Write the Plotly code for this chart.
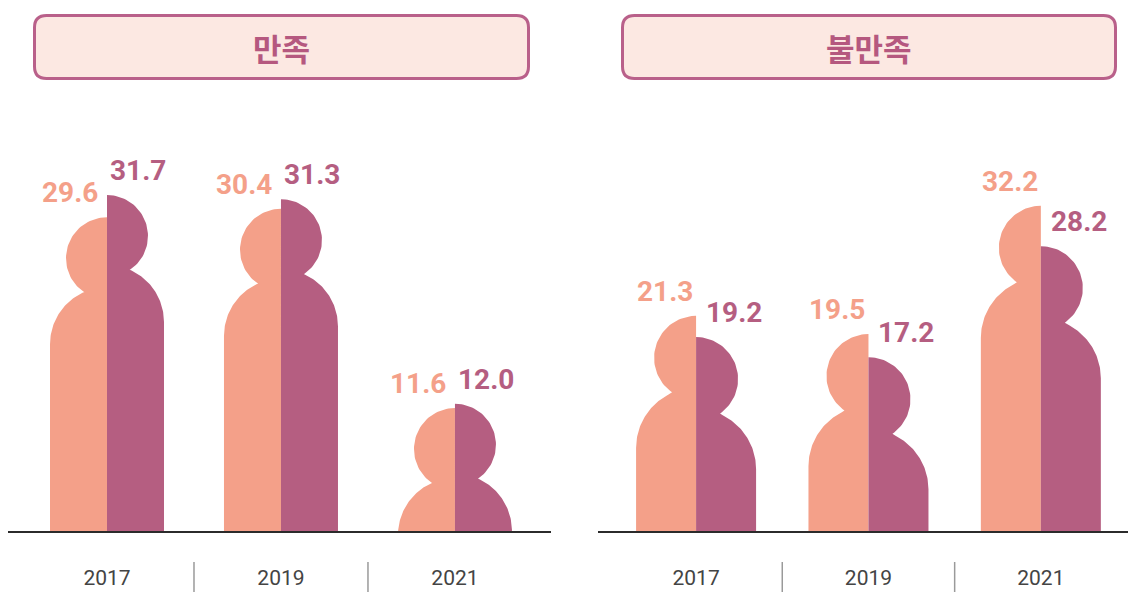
import math
import plotly.graph_objects as go

# ---------------- data ----------------
years = ["2017", "2019", "2021"]
panel_titles = ["만족", "불만족"]
satisfied_light = [29.6, 30.4, 11.6]       # light halves (left side of each figure)
satisfied_dark = [31.7, 31.3, 12.0]        # dark halves (right side of each figure)
dissatisfied_light = [21.3, 19.5, 32.2]
dissatisfied_dark = [19.2, 17.2, 28.2]

# ---------------- style ----------------
OFF = 8                      # page body margin (px)
WIN_W, WIN_H = 1136, 592
W, H = WIN_W - OFF, WIN_H - OFF
BASE = 531                   # window pixel row of the baseline
LIGHT = "#F4A089"
DARK = "#B55E81"
TITLE_COL = "#B5587F"
BOX_FILL = "#FCE8E2"
BOX_LINE = "#B9608A"
XR = (-0.569, 2.552)
LABEL_FONT = "Roboto, sans-serif"

panels = [
    dict(xpx=(8, 551), pxu=10.6, R=57, rh=41, off=127, nd=22,
         light=satisfied_light, dark=satisfied_dark, title=panel_titles[0],
         box=(33, 14, 530, 80), xa="x", ya="y"),
    dict(xpx=(598, 1136), pxu=10.1, R=60, rh=42, off=132, nd=24,
         light=dissatisfied_light, dark=dissatisfied_dark, title=panel_titles[1],
         box=(621, 14, 1117, 80), xa="x2", ya="y2"),
]


def half_person(cx, value, side, sx, sy, R, rh, off, nd, n=48):
    """Polygon of half a person silhouette whose top is at `value`."""
    top_px = value / sy
    bcy = top_px - off
    hcy = top_px - rh
    pts = [(0.0, 0.0)]
    a_neck = math.acos(nd / R)
    if bcy >= 0:
        pts.append((R, 0.0))
        a0 = 0.0
    else:
        a0 = math.asin(min(1.0, -bcy / R))
    for k in range(n + 1):
        a = a0 + (a_neck - a0) * k / n
        pts.append((R * math.cos(a), bcy + R * math.sin(a)))
    b_neck = math.pi - math.asin(nd / rh)
    for k in range(n + 1):
        b = b_neck * (1 - k / n)
        pts.append((rh * math.sin(b), hcy + rh * math.cos(b)))
    pts.append((0.0, 0.0))
    xs = [cx + side * dx * sx for dx, dy in pts]
    ys = [max(0.0, dy * sy) for dx, dy in pts]
    return xs, ys


def PX(p):   # window px -> paper x
    return (p - OFF) / W


def PY(p):   # window px -> paper y
    return (BASE - p) / (BASE - OFF)


def rrect(x0, y0, x1, y1, r):
    return (f"M {PX(x0 + r)},{PY(y0)} L {PX(x1 - r)},{PY(y0)} "
            f"Q {PX(x1)},{PY(y0)} {PX(x1)},{PY(y0 + r)} L {PX(x1)},{PY(y1 - r)} "
            f"Q {PX(x1)},{PY(y1)} {PX(x1 - r)},{PY(y1)} L {PX(x0 + r)},{PY(y1)} "
            f"Q {PX(x0)},{PY(y1)} {PX(x0)},{PY(y1 - r)} L {PX(x0)},{PY(y0 + r)} "
            f"Q {PX(x0)},{PY(y0)} {PX(x0 + r)},{PY(y0)} Z")


fig = go.Figure()
annotations = []
shapes = []

for p in panels:
    sx = (XR[1] - XR[0]) / (p["xpx"][1] - p["xpx"][0])   # data x per px
    sy = 1.0 / p["pxu"]                                   # data y per px
    for i, yr in enumerate(years):
        lv, dv = p["light"][i], p["dark"][i]
        for val, side, col in ((lv, -1, LIGHT), (dv, 1, DARK)):
            xs, ys = half_person(i, val, side, sx, sy, p["R"], p["rh"], p["off"], p["nd"])
            fig.add_trace(go.Scatter(x=xs, y=ys, mode="lines", fill="toself",
                                     fillcolor=col, line=dict(width=0, color=col),
                                     hoverinfo="skip", showlegend=False,
                                     xaxis=p["xa"], yaxis=p["ya"]))
        light_taller = lv > dv
        annotations.append(dict(
            x=i, y=lv, xref=p["xa"], yref=p["ya"], text=f"{lv:.1f}", showarrow=False,
            xanchor="right", yanchor="bottom", xshift=-1 if light_taller else -7, yshift=6,
            font=dict(family=LABEL_FONT, size=28, color=LIGHT, weight="bold")))
        annotations.append(dict(
            x=i, y=dv, xref=p["xa"], yref=p["ya"], text=f"{dv:.1f}", showarrow=False,
            xanchor="left", yanchor="bottom", xshift=1 if not light_taller else 8, yshift=6,
            font=dict(family=LABEL_FONT, size=28, color=DARK, weight="bold")))
    # dividers between years (below the baseline)
    for d in (0.5, 1.5):
        shapes.append(dict(type="line", xref=p["xa"], yref="paper", x0=d, x1=d,
                           y0=PY(562), y1=PY(594), line=dict(color="#9A9A9A", width=1.5)))
    # header box
    bx0, by0, bx1, by1 = p["box"]
    shapes.append(dict(type="path", xref="paper", yref="paper",
                       path=rrect(bx0 + 1.5, by0 + 1.5, bx1 - 1.5, by1 - 1.5, 12),
                       fillcolor=BOX_FILL, line=dict(color=BOX_LINE, width=3)))
    annotations.append(dict(
        x=PX((bx0 + bx1) / 2), y=PY(47), xref="paper", yref="paper", text=p["title"],
        showarrow=False, xanchor="center", yanchor="middle",
        font=dict(family="Noto Sans CJK KR", size=31, color=TITLE_COL, weight="bold")))

axis_common = dict(showgrid=False, zeroline=False, fixedrange=True)
layout_axes = {}
for k, p in enumerate(panels):
    suffix = "" if k == 0 else "2"
    layout_axes["xaxis" + suffix] = dict(
        domain=[PX(p["xpx"][0]), min(1.0, PX(p["xpx"][1]))], range=list(XR),
        anchor="y" + suffix, tickmode="array", tickvals=[0, 1, 2], ticktext=years,
        showline=True, linecolor="#2B2B2B", linewidth=2, ticks="",
        ticklabelstandoff=27,
        tickfont=dict(family="Roboto", size=21, color="#444444"), **axis_common)
    layout_axes["yaxis" + suffix] = dict(
        domain=[0, 1], range=[0, (BASE - OFF) / p["pxu"]], anchor="x" + suffix,
        visible=False, **axis_common)

fig.update_layout(
    width=W, height=H,
    margin=dict(l=0, r=0, t=0, b=WIN_H - BASE),
    paper_bgcolor="white", plot_bgcolor="rgba(0,0,0,0)",
    showlegend=False, shapes=shapes, annotations=annotations,
    **layout_axes)

fig.write_html("out.html", config={"displayModeBar": False})
